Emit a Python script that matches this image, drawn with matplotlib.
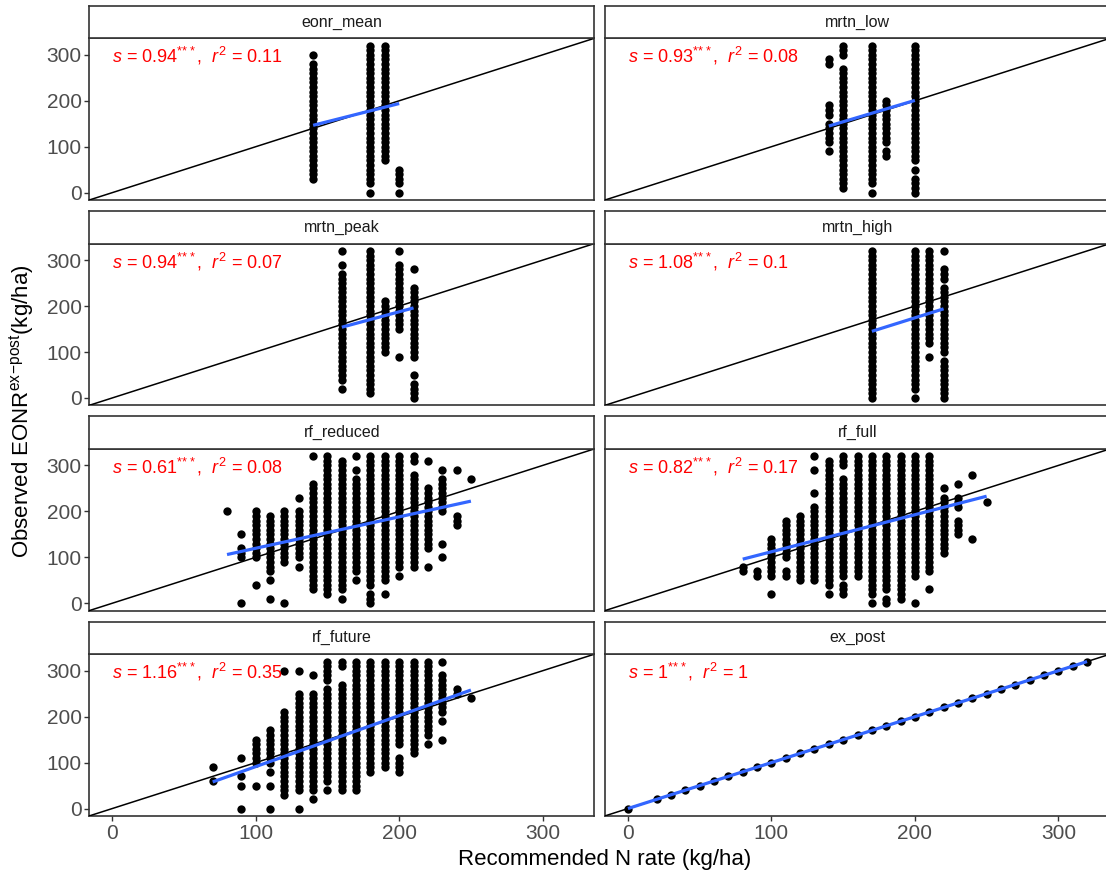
import numpy as np
import matplotlib
matplotlib.use("Agg")
import matplotlib.pyplot as plt

plt.rcParams["font.family"] = ["Liberation Sans", "DejaVu Sans"]
plt.rcParams["mathtext.fontset"] = "custom"
plt.rcParams["mathtext.rm"] = "Liberation Sans"
plt.rcParams["mathtext.it"] = "Liberation Sans:italic"

# Panel names (facet order, row by row)
panels = ["eonr_mean", "mrtn_low", "mrtn_peak", "mrtn_high",
          "rf_reduced", "rf_full", "rf_future", "ex_post"]

# Slope annotation values
s_vals = ["0.94", "0.93", "0.94", "1.08", "0.61", "0.82", "1.16", "1"]
r2_vals = ["0.11", "0.08", "0.07", "0.1", "0.08", "0.17", "0.35", "1"]

# Blue lm-fit lines: (intercept, slope)
fit_intercept = [36.0, 14.8, 19.6, -21.6, 51.3, 31.5, -19.8, 0.0]
fit_slope = [0.79, 0.93, 0.84, 0.98, 0.684, 0.806, 1.111, 1.0]

# Observed EONR sits on a 10 kg/ha grid; each run is
# (recommended rate, lowest observed, highest observed) of a solid column of dots
eonr_mean_runs = [(140, 30, 280), (140, 300, 300),
                  (180, 20, 320), (180, 0, 0),
                  (190, 70, 320),
                  (200, 20, 50), (200, 0, 0)]

mrtn_low_runs = [(140, 280, 290), (140, 170, 190), (140, 110, 150), (140, 90, 90),
                 (150, 10, 270), (150, 300, 320),
                 (170, 20, 320), (170, 0, 0),
                 (180, 110, 200), (180, 80, 90),
                 (200, 70, 320), (200, 50, 50), (200, 0, 30)]

mrtn_peak_runs = [(160, 320, 320), (160, 290, 290), (160, 40, 270), (160, 20, 20),
                  (180, 10, 320),
                  (190, 100, 210),
                  (200, 320, 320), (200, 250, 290), (200, 150, 240), (200, 90, 90),
                  (210, 280, 280), (210, 90, 240), (210, 50, 50), (210, 0, 30)]

mrtn_high_runs = [(170, 290, 320), (170, 0, 280),
                  (200, 20, 320), (200, 0, 0),
                  (210, 310, 320), (210, 120, 300), (210, 90, 90),
                  (220, 320, 320), (220, 260, 280), (220, 100, 240),
                  (220, 50, 80), (220, 0, 40)]

rf_reduced_runs = [(80, 200, 200),
                   (90, 150, 150), (90, 100, 120), (90, 0, 0),
                   (100, 170, 200), (100, 100, 160), (100, 40, 40),
                   (110, 70, 190), (110, 50, 50), (110, 10, 10),
                   (120, 90, 200), (120, 0, 0),
                   (130, 230, 230), (130, 100, 200), (130, 80, 80),
                   (140, 320, 320), (140, 240, 260), (140, 30, 230),
                   (150, 20, 320),
                   (160, 30, 310), (160, 10, 10),
                   (170, 320, 320), (170, 290, 290), (170, 70, 270), (170, 50, 50),
                   (180, 40, 320), (180, 0, 20),
                   (190, 50, 320), (190, 20, 20),
                   (200, 80, 320), (200, 60, 60),
                   (210, 310, 320), (210, 80, 280),
                   (220, 310, 310), (220, 120, 250), (220, 80, 80),
                   (230, 290, 290), (230, 200, 270), (230, 130, 130), (230, 100, 100),
                   (240, 290, 290), (240, 170, 190),
                   (250, 270, 270)]

rf_full_runs = [(80, 70, 80),
                (90, 60, 70),
                (100, 60, 140), (100, 20, 20),
                (110, 100, 180), (110, 60, 70),
                (120, 50, 190),
                (130, 320, 320), (130, 290, 290), (130, 240, 240), (130, 50, 210),
                (140, 40, 310), (140, 20, 20),
                (150, 300, 320), (150, 60, 270), (150, 20, 40),
                (160, 60, 320),
                (170, 20, 320), (170, 0, 0),
                (180, 30, 320), (180, 0, 10),
                (190, 10, 320),
                (200, 60, 320), (200, 0, 0),
                (210, 70, 320), (210, 30, 30),
                (220, 250, 250), (220, 110, 230),
                (230, 260, 260), (230, 210, 230), (230, 150, 180),
                (240, 280, 280), (240, 140, 140),
                (250, 220, 220)]

rf_future_runs = [(70, 90, 90), (70, 60, 60),
                  (90, 110, 110), (90, 70, 70), (90, 50, 50), (90, 0, 0),
                  (100, 100, 150), (100, 50, 50),
                  (110, 100, 170), (110, 80, 80), (110, 50, 50), (110, 0, 0),
                  (120, 300, 300), (120, 30, 210),
                  (130, 300, 300), (130, 40, 250), (130, 0, 0),
                  (140, 290, 290), (140, 40, 250), (140, 20, 20),
                  (150, 280, 320), (150, 60, 260), (150, 40, 40),
                  (160, 310, 320), (160, 270, 270), (160, 40, 260),
                  (170, 40, 320),
                  (180, 80, 320),
                  (190, 90, 320),
                  (200, 140, 320), (200, 80, 110),
                  (210, 120, 320),
                  (220, 160, 320), (220, 140, 140),
                  (230, 320, 320), (230, 210, 290), (230, 190, 190), (230, 150, 150),
                  (240, 250, 260),
                  (250, 240, 240)]

ex_post_x = [0, 20, 30, 40, 50, 60, 70, 80, 90, 100, 110, 120, 130, 140, 150, 160,
             170, 180, 190, 200, 210, 220, 230, 240, 250, 260, 270, 280, 290, 300,
             310, 320]
ex_post_y = list(ex_post_x)

x_ticks = [0, 100, 200, 300]
y_ticks = [0, 100, 200, 300]


def expand(runs, step=10):
    xs, ys = [], []
    for x, lo, hi in runs:
        for y in range(lo, hi + 1, step):
            xs.append(x)
            ys.append(y)
    return np.array(xs), np.array(ys)


panel_points = [expand(eonr_mean_runs), expand(mrtn_low_runs),
                expand(mrtn_peak_runs), expand(mrtn_high_runs),
                expand(rf_reduced_runs), expand(rf_full_runs),
                expand(rf_future_runs), (np.array(ex_post_x), np.array(ex_post_y))]

W, H = 1106, 877
fig = plt.figure(figsize=(W / 100, H / 100), dpi=100)

col_left = [89.3, 605.0]
col_width = 505.0
strip_h = 32.6
panel_h = 161.7
row_pitch = 205.3
lim = (-16, 336)
edge = "#333333"

for i, name in enumerate(panels):
    r, c = divmod(i, 2)
    strip_top = 5.7 + row_pitch * r
    panel_top = strip_top + strip_h
    x0 = col_left[c]

    ax = fig.add_axes([x0 / W, 1 - (panel_top + panel_h) / H,
                       col_width / W, panel_h / H])
    sx = fig.add_axes([x0 / W, 1 - panel_top / H, col_width / W, strip_h / H])

    xs, ys = panel_points[i]
    ax.scatter(xs, ys, s=36, color="black", linewidths=0, zorder=2)
    ax.plot(lim, lim, color="black", lw=1.1, zorder=3)
    fx = np.array([xs.min(), xs.max()])
    ax.plot(fx, fit_intercept[i] + fit_slope[i] * fx, color="#3366FF",
            lw=2.3, solid_capstyle="butt", zorder=4)

    label = (r"$s$ = %s$^{*\!*\!*}$,  $r^2$ = %s" % (s_vals[i], r2_vals[i]))
    ax.text(0, 297, label, color="red", fontsize=13, ha="left",
            va="center", zorder=5)

    ax.set_xlim(lim)
    ax.set_ylim(lim)
    ax.set_xticks(x_ticks)
    ax.set_yticks(y_ticks)
    ax.tick_params(direction="out", length=3.5, width=1.0, color=edge,
                   labelsize=15, labelcolor="#4D4D4D", pad=2)
    if c == 1:
        ax.tick_params(left=False, labelleft=False)
    if r < 3:
        ax.tick_params(bottom=False, labelbottom=False)
    for sp in ax.spines.values():
        sp.set_color(edge)
        sp.set_linewidth(1.2)

    sx.set_xticks([])
    sx.set_yticks([])
    for sp in sx.spines.values():
        sp.set_color(edge)
        sp.set_linewidth(1.2)
    sx.text(0.5, 0.5, name, ha="center", va="center", fontsize=11.5,
            color="#1A1A1A", transform=sx.transAxes)

fig.text(605 / W, 1 - 860 / H, "Recommended N rate (kg/ha)", ha="center",
         va="center", fontsize=16)
fig.text(22 / W, 1 - 411 / H,
         r"Observed EONR$^{\mathrm{ex}\!-\!\mathrm{post}}$(kg/ha)",
         ha="center", va="center", rotation=90, fontsize=16)

fig.savefig("out.png", dpi=100)
